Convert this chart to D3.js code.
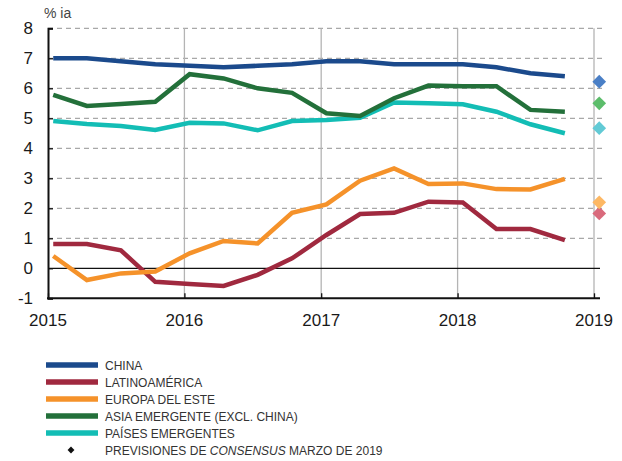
<!DOCTYPE html>
<html>
<head>
<meta charset="utf-8">
<script src="https://cdn.jsdelivr.net/npm/d3@7"></script>
<style>
  body { margin: 0; background: #fff; }
  svg { display: block; font-family: "Liberation Sans", Arial, sans-serif; }
</style>
</head>
<body>
<script>
// Data (quarterly, % ia)
const dates = ["2015-01-15", "2015-04-15", "2015-07-15", "2015-10-15",
               "2016-01-15", "2016-04-15", "2016-07-15", "2016-10-15",
               "2017-01-15", "2017-04-15", "2017-07-15", "2017-10-15",
               "2018-01-15", "2018-04-15", "2018-07-15", "2018-10-15"];
const seriesNames = ["CHINA", "LATINOAMÉRICA", "EUROPA DEL ESTE", "ASIA EMERGENTE (EXCL. CHINA)", "PAÍSES EMERGENTES"];
const china   = [7.0, 7.0, 6.9, 6.8, 6.75, 6.7, 6.75, 6.8, 6.9, 6.9, 6.8, 6.8, 6.8, 6.7, 6.5, 6.4];
const latam   = [0.81, 0.81, 0.6, -0.45, -0.52, -0.59, -0.22, 0.33, 1.11, 1.81, 1.85, 2.22, 2.19, 1.31, 1.31, 0.94];
const europa  = [0.41, -0.39, -0.17, -0.11, 0.5, 0.91, 0.83, 1.85, 2.13, 2.92, 3.33, 2.81, 2.83, 2.64, 2.63, 2.98];
const asia    = [5.78, 5.41, 5.48, 5.55, 6.47, 6.33, 6.0, 5.85, 5.17, 5.08, 5.67, 6.09, 6.07, 6.07, 5.28, 5.22];
const paises  = [4.91, 4.81, 4.74, 4.61, 4.85, 4.83, 4.6, 4.91, 4.94, 5.02, 5.53, 5.5, 5.47, 5.22, 4.8, 4.5];
// Consensus forecasts for 2019
const forecastDate = "2019-01-15";
const forecasts = [6.22, 1.83, 2.2, 5.5, 4.67];
const yTicks = [-1, 0, 1, 2, 3, 4, 5, 6, 7, 8];
const xTicks = ["2015", "2016", "2017", "2018", "2019"];
const forecastLabel = ["PREVISIONES DE ", "CONSENSUS", " MARZO DE 2019"];

const lineColors = ["#1b4a8c", "#a0293f", "#f5922a", "#23703a", "#13bdb5"];
const diamondColors = ["#4a7fc6", "#d96a7c", "#fdb864", "#5cbd6b", "#62cad5"];

const width = 622, height = 461;
const parse = d3.timeParse("%Y-%m-%d");

const svg = d3.select("body").append("svg")
    .attr("width", width)
    .attr("height", height);

const x = d3.scaleTime()
    .domain([parse("2015-01-01"), parse("2019-01-01")])
    .range([48, 594]);
const y = d3.scaleLinear()
    .domain([-1, 8])
    .range([298.3, 28.3]);

const xRight = 604;

// horizontal dashed grid
svg.append("g")
    .selectAll("line")
    .data(yTicks.filter(d => d > 0))
    .enter().append("line")
    .attr("x1", x.range()[0]).attr("x2", xRight)
    .attr("y1", d => y(d)).attr("y2", d => y(d))
    .attr("stroke", "#a8a8a8")
    .attr("stroke-width", 1.2)
    .attr("stroke-dasharray", "5,4");

// vertical year grid
svg.append("g")
    .selectAll("line")
    .data(xTicks.slice(1))
    .enter().append("line")
    .attr("x1", d => x(parse(d + "-01-01"))).attr("x2", d => x(parse(d + "-01-01")))
    .attr("y1", y(8)).attr("y2", y(-1))
    .attr("stroke", "#b4b4b4")
    .attr("stroke-width", 1.3);

// zero line
svg.append("line")
    .attr("x1", x.range()[0]).attr("x2", 600)
    .attr("y1", y(0)).attr("y2", y(0))
    .attr("stroke", "#111").attr("stroke-width", 1.3);

// y axis
const yAxis = svg.append("g")
    .attr("transform", "translate(" + x.range()[0] + ",0)")
    .call(d3.axisRight(y).tickValues(yTicks).tickSize(5).tickFormat(""));
yAxis.select(".domain").attr("stroke", "#111").attr("stroke-width", 2);
yAxis.selectAll(".tick line").attr("stroke", "#111").attr("stroke-width", 1.3);

svg.append("g")
    .selectAll("text")
    .data(yTicks)
    .enter().append("text")
    .attr("x", 33)
    .attr("y", d => y(d) + 6)
    .attr("text-anchor", "end")
    .attr("font-size", 17)
    .attr("fill", "#1a1a1a")
    .text(d => d);

svg.append("text")
    .attr("x", 44).attr("y", 18)
    .attr("font-size", 14)
    .attr("fill", "#444")
    .text("% ia");

// x axis (at -1)
const xAxis = svg.append("g")
    .attr("transform", "translate(0," + y(-1) + ")")
    .call(d3.axisTop(x).tickValues(xTicks.map(d => parse(d + "-01-01"))).tickSize(5).tickFormat(""));
xAxis.select(".domain").attr("stroke", "#111").attr("stroke-width", 2).attr("d", "M" + (x.range()[0] - 1) + ",0H600");
xAxis.selectAll(".tick line").attr("stroke", "#111").attr("stroke-width", 1.3);

svg.append("g")
    .selectAll("text")
    .data(xTicks)
    .enter().append("text")
    .attr("x", d => x(parse(d + "-01-01")))
    .attr("y", 326)
    .attr("text-anchor", "middle")
    .attr("font-size", 17)
    .attr("fill", "#1a1a1a")
    .text(d => d);

// series lines
const allSeries = [china, latam, europa, asia, paises];
const line = d3.line()
    .x((d, i) => x(parse(dates[i])))
    .y(d => y(d));

// draw order: paises, asia, china, latam, europa on top
[4, 3, 0, 1, 2].forEach(k => {
    svg.append("path")
        .datum(allSeries[k])
        .attr("fill", "none")
        .attr("stroke", lineColors[k])
        .attr("stroke-width", 4.5)
        .attr("stroke-linejoin", "miter")
        .attr("d", line);
});

// forecast diamonds
const diamond = d3.symbol().type(d3.symbolDiamond2).size(120);
svg.append("g")
    .selectAll("path")
    .data(forecasts)
    .enter().append("path")
    .attr("transform", d => "translate(" + x(parse(forecastDate)) + "," + y(d) + ")")
    .attr("fill", (d, i) => diamondColors[i])
    .attr("d", diamond);

// legend
const legend = svg.append("g");
const legendY = d3.scaleLinear().domain([0, 5]).range([365, 450]);

// narrow look: squeeze the text horizontally
const legendText = legend.append("g")
    .attr("transform", "translate(105,0) scale(0.89,1)")
    .attr("font-size", 13.5)
    .attr("fill", "#333");

seriesNames.forEach((name, i) => {
    legend.append("line")
        .attr("x1", 46).attr("x2", 98)
        .attr("y1", legendY(i)).attr("y2", legendY(i))
        .attr("stroke", lineColors[i])
        .attr("stroke-width", 5.5);
    legendText.append("text")
        .attr("x", 0).attr("y", legendY(i) + 5)
        .text(name);
});

legend.append("path")
    .attr("transform", "translate(71," + legendY(5) + ")")
    .attr("fill", "#111")
    .attr("d", d3.symbol().type(d3.symbolDiamond2).size(30));

const fl = legendText.append("text")
    .attr("x", 0).attr("y", legendY(5) + 5);
forecastLabel.forEach((t, i) => {
    fl.append("tspan")
        .attr("font-style", i === 1 ? "italic" : "normal")
        .text(t);
});
</script>
</body>
</html>
